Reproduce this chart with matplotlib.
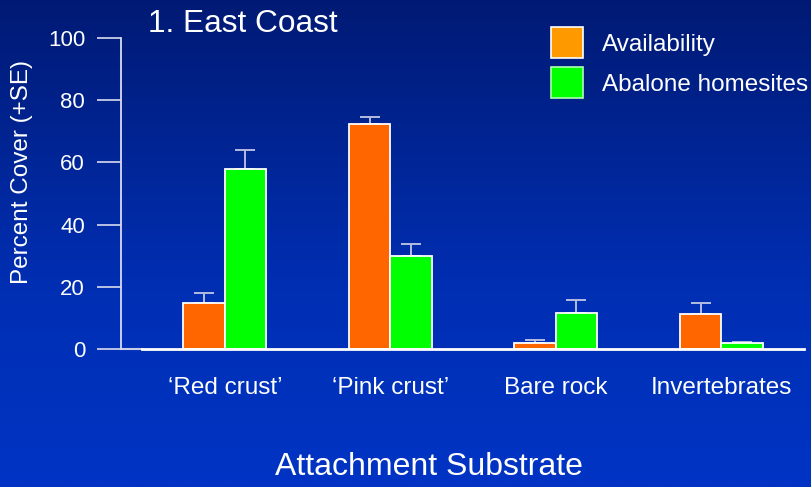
import numpy as np
import matplotlib
matplotlib.use("Agg")
import matplotlib.pyplot as plt
from matplotlib.patches import Patch
from matplotlib.colors import LinearSegmentedColormap

plt.rcParams['font.family'] = ['Liberation Sans', 'DejaVu Sans']

# ---------------------------------------------------------------------------
# Data
# ---------------------------------------------------------------------------
substrates = ["\u2018Red crust\u2019", "\u2018Pink crust\u2019", "Bare rock", "Invertebrates"]
availability = [14.7, 72.2, 1.8, 11.2]
availability_se = [3.4, 2.3, 1.0, 3.5]
homesites = [57.8, 30.0, 11.6, 1.8]
homesites_se = [6.2, 3.8, 4.3, 0.4]
series_names = ["Availability", "Abalone homesites"]
yticks = [0, 20, 40, 60, 80, 100]

# colours
bar_orange = "#ff6600"
legend_orange = "#ff9900"
bar_green = "#00ff00"
err_col = "#b4bce0"
txt_col = "white"

W, H = 812, 487
fig = plt.figure(figsize=(W / 100, H / 100), dpi=100)

# --- gradient background ---
bg = fig.add_axes([0, 0, 1, 1], zorder=-10)
grad = np.linspace(0, 1, 256).reshape(-1, 1)
cmap = LinearSegmentedColormap.from_list(
    "bg", [(0.0, "#001a74"), (0.6, "#002fb4"), (1.0, "#0034c4")])
bg.imshow(grad, aspect="auto", cmap=cmap, extent=[0, 1, 0, 1], origin="upper")
bg.axis("off")

# --- main axes ---
ax = fig.add_axes([142 / W, (H - 349) / H, 662 / W, 311 / H])
ax.patch.set_alpha(0)

x = np.arange(len(substrates))
w = 0.25
zeros = np.zeros(len(substrates))

ax.bar(x - w / 2, availability, w, color=bar_orange, edgecolor="white",
       linewidth=1.3, zorder=3)
ax.bar(x + w / 2, homesites, w, color=bar_green, edgecolor="white",
       linewidth=1.3, zorder=3)
ax.errorbar(x - w / 2, availability, yerr=[zeros, availability_se], fmt="none",
            ecolor=err_col, elinewidth=1.4, capsize=7, capthick=1.4, zorder=2)
ax.errorbar(x + w / 2, homesites, yerr=[zeros, homesites_se], fmt="none",
            ecolor=err_col, elinewidth=1.4, capsize=7, capthick=1.4, zorder=2)

ax.set_xlim(-0.5, 3.5)
ax.set_ylim(0, 100)
ax.set_yticks(yticks)
ax.set_xticks(x)
ax.set_xticklabels(substrates)

for s in ["top", "right"]:
    ax.spines[s].set_visible(False)
ax.spines["left"].set_position(("outward", 15))
ax.spines["left"].set_color("#d8dcf0")
ax.spines["left"].set_linewidth(1.3)
ax.spines["bottom"].set_color("white")
ax.spines["bottom"].set_linewidth(2)
ax.spines["bottom"].set_zorder(4)

ax.tick_params(axis="y", direction="out", length=17, width=1.3,
               color="#c8cde8", labelcolor=txt_col, labelsize=16, pad=9)
ax.tick_params(axis="x", length=0, labelcolor=txt_col, labelsize=17.5, pad=20)

# small grey stub joining the offset y-axis to the baseline
ax.plot([-21 / 662, 0], [0, 0], color="#c8cde8", lw=1.5,
        transform=ax.get_yaxis_transform(), clip_on=False, zorder=1)

# --- legend ---
handles = [Patch(facecolor=legend_orange, edgecolor="white", linewidth=1.2),
           Patch(facecolor=bar_green, edgecolor="#b0ffb0", linewidth=1.2)]
leg = fig.legend(handles, series_names, loc="upper left",
                 bbox_to_anchor=(551 / W, 1 - 27 / H), frameon=False,
                 fontsize=17.5, handlelength=1.3, handleheight=1.6,
                 handletextpad=0.78, labelspacing=0.36, borderpad=0,
                 borderaxespad=0)
for t in leg.get_texts():
    t.set_color(txt_col)

# --- titles and labels ---
fig.text(148 / W, 1 - 24 / H, "1. East Coast", color=txt_col, fontsize=22.8,
         ha="left", va="center")
fig.text(22 / W, 1 - 172 / H, "Percent Cover (+SE)", color=txt_col,
         fontsize=17.5, rotation=90, ha="center", va="center")
fig.text(429 / W, 1 - 467 / H, "Attachment Substrate", color=txt_col,
         fontsize=23, ha="center", va="center")

fig.savefig("out.png", dpi=100)
